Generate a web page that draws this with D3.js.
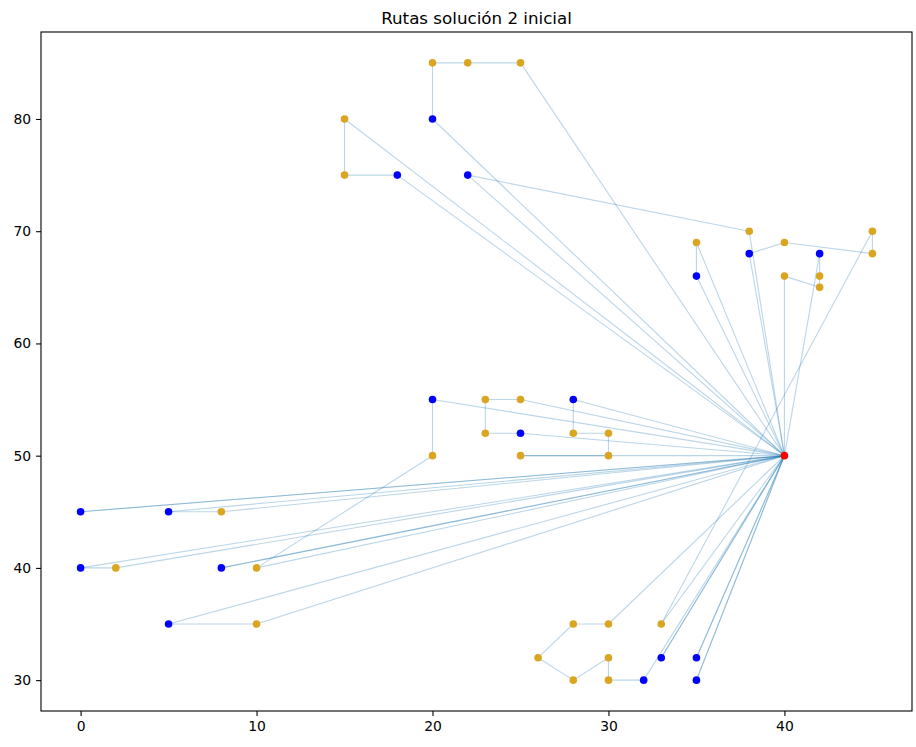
<!DOCTYPE html>
<html>
<head>
<meta charset="utf-8">
<script src="https://cdn.jsdelivr.net/npm/d3@7"></script>
<style>
  body { margin: 0; background: #fff; overflow: hidden; }
  svg { display: block; }
  text { font-family: "DejaVu Sans", sans-serif; }
</style>
</head>
<body>
<svg></svg>
<script>
var width = 916, height = 747;

var title = 'Rutas solución 2 inicial';
var depot = [40, 50];

// each route: customers in visiting order (depot -> ... -> depot)
var routes = [
  [[20, 80], [20, 85], [22, 85], [25, 85]],
  [[18, 75], [15, 75], [15, 80]],
  [[22, 75], [38, 70]],
  [[35, 66], [35, 69]],
  [[38, 68], [40, 69], [45, 68], [45, 70], [33, 35]],
  [[42, 68], [42, 66], [42, 65], [40, 66]],
  [[28, 55], [28, 52], [30, 52], [30, 50], [25, 50]],
  [[25, 52], [23, 52], [23, 55], [25, 55]],
  [[20, 55], [20, 50], [10, 40]],
  [[0, 45]],
  [[5, 45], [8, 45]],
  [[0, 40], [2, 40]],
  [[8, 40]],
  [[5, 35], [10, 35]],
  [[32, 30], [30, 30], [30, 32], [28, 30], [26, 32], [28, 35], [30, 35]],
  [[33, 32]],
  [[35, 32]],
  [[35, 30]]
];

var xTicks = [0, 10, 20, 30, 40];
var yTicks = [30, 40, 50, 60, 70, 80];

var margin = { top: 32, right: 4, bottom: 36, left: 41 };
var innerWidth = width - margin.left - margin.right;
var innerHeight = height - margin.top - margin.bottom;

var allPts = [depot].concat(d3.merge(routes));
var xExt = d3.extent(allPts, d => d[0]);
var yExt = d3.extent(allPts, d => d[1]);
var xPad = (xExt[1] - xExt[0]) * 0.05;
var yPad = (yExt[1] - yExt[0]) * 0.05;

var x = d3.scaleLinear().domain([xExt[0] - xPad, xExt[1] + xPad]).range([0, innerWidth]);
var y = d3.scaleLinear().domain([yExt[0] - yPad, yExt[1] + yPad]).range([innerHeight, 0]);

var svg = d3.select('svg')
    .attr('width', width)
    .attr('height', height);

var g = svg.append('g')
    .attr('transform', `translate(${margin.left},${margin.top})`);

// route edges, one line per leg so that repeated legs overlap darker
var edges = [];
routes.forEach(r => {
  var stops = [depot].concat(r, [depot]);
  d3.pairs(stops).forEach(e => edges.push(e));
});

g.append('g').selectAll('line').data(edges)
  .enter().append('line')
    .attr('x1', d => x(d[0][0]))
    .attr('y1', d => y(d[0][1]))
    .attr('x2', d => x(d[1][0]))
    .attr('y2', d => y(d[1][1]))
    .attr('stroke', '#1f77b4')
    .attr('stroke-opacity', 0.3)
    .attr('stroke-width', 1.1);

// customers: first of each route in blue, the rest goldenrod
var customers = [];
routes.forEach(r => r.forEach((p, i) => customers.push({ p: p, first: i === 0 })));

g.append('g').selectAll('circle').data(customers)
  .enter().append('circle')
    .attr('cx', d => x(d.p[0]))
    .attr('cy', d => y(d.p[1]))
    .attr('r', 3.8)
    .attr('fill', d => d.first ? '#0000ff' : '#daa520');

g.append('circle')
    .attr('cx', x(depot[0]))
    .attr('cy', y(depot[1]))
    .attr('r', 3.8)
    .attr('fill', '#ff0000');

// axes
var xAxis = g.append('g')
    .attr('transform', `translate(0,${innerHeight})`)
    .call(d3.axisBottom(x).tickValues(xTicks).tickSize(4.9).tickPadding(4.9));
var yAxis = g.append('g')
    .call(d3.axisLeft(y).tickValues(yTicks).tickSize(4.9).tickPadding(4.9));

[xAxis, yAxis].forEach(a => {
  a.select('.domain').remove();
  a.selectAll('line').attr('stroke', '#000').attr('stroke-width', 1.1);
  a.selectAll('text')
    .attr('fill', '#000')
    .style('font-family', '"DejaVu Sans", sans-serif')
    .style('font-size', '13.9px');
});

g.append('rect')
    .attr('width', innerWidth)
    .attr('height', innerHeight)
    .attr('fill', 'none')
    .attr('stroke', '#000')
    .attr('stroke-width', 1.1);

svg.append('text')
    .attr('x', margin.left + innerWidth / 2)
    .attr('y', margin.top - 8.5)
    .attr('text-anchor', 'middle')
    .attr('font-size', '16.7px')
    .attr('fill', '#000')
    .text(title);
</script>
</body>
</html>
